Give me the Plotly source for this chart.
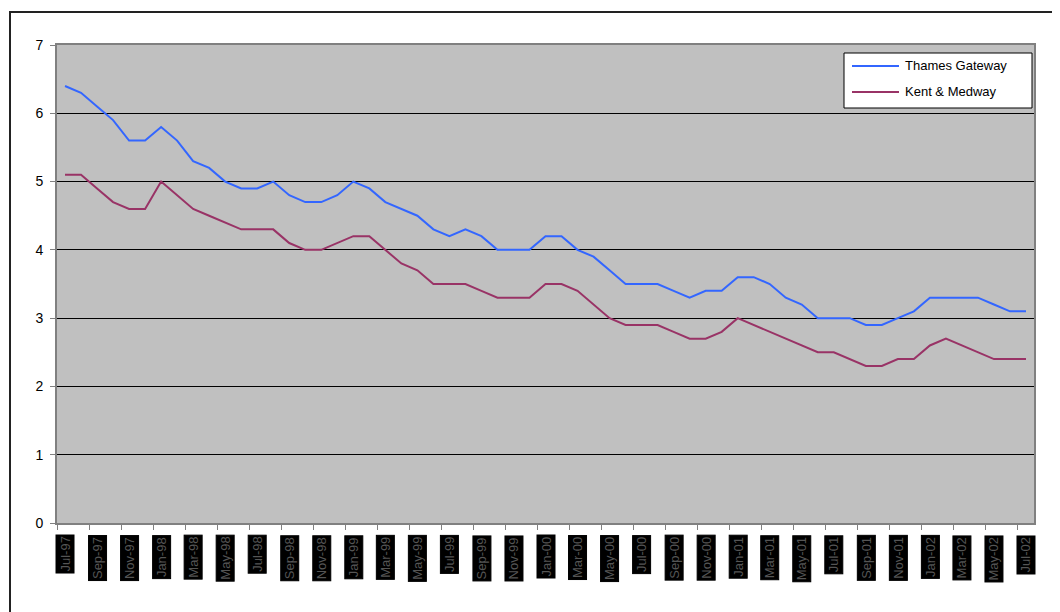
import pandas as pd
import plotly.graph_objects as go

# Monthly categories, July 1997 to July 2002
months = list(pd.date_range("1997-07-01", periods=61, freq="MS").strftime("%b-%y"))

thames_gateway = [
    6.4, 6.3, 6.1, 5.9, 5.6, 5.6, 5.8, 5.6, 5.3, 5.2,
    5.0, 4.9, 4.9, 5.0, 4.8, 4.7, 4.7, 4.8, 5.0, 4.9,
    4.7, 4.6, 4.5, 4.3, 4.2, 4.3, 4.2, 4.0, 4.0, 4.0,
    4.2, 4.2, 4.0, 3.9, 3.7, 3.5, 3.5, 3.5, 3.4, 3.3,
    3.4, 3.4, 3.6, 3.6, 3.5, 3.3, 3.2, 3.0, 3.0, 3.0,
    2.9, 2.9, 3.0, 3.1, 3.3, 3.3, 3.3, 3.3, 3.2, 3.1,
    3.1,
]
kent_medway = [
    5.1, 5.1, 4.9, 4.7, 4.6, 4.6, 5.0, 4.8, 4.6, 4.5,
    4.4, 4.3, 4.3, 4.3, 4.1, 4.0, 4.0, 4.1, 4.2, 4.2,
    4.0, 3.8, 3.7, 3.5, 3.5, 3.5, 3.4, 3.3, 3.3, 3.3,
    3.5, 3.5, 3.4, 3.2, 3.0, 2.9, 2.9, 2.9, 2.8, 2.7,
    2.7, 2.8, 3.0, 2.9, 2.8, 2.7, 2.6, 2.5, 2.5, 2.4,
    2.3, 2.3, 2.4, 2.4, 2.6, 2.7, 2.6, 2.5, 2.4, 2.4,
    2.4,
]
series_names = ["Thames Gateway", "Kent & Medway"]
series_colors = ["#3366FF", "#993366"]

FONT = "Liberation Sans, Arial, sans-serif"
OFF = 8                      # page body margin
W, H = 1060 - OFF, 612 - OFF
L = 57 - OFF
T = 45 - OFF
R = W - (1034 - OFF)
B = H - (523 - OFF)
pw, ph = W - L - R, H - T - B

def px_x(p):                 # page pixel -> paper x
    return (p - OFF - L) / pw

def px_y(p):                 # page pixel -> paper y
    return (H - B - (p - OFF)) / ph

x_idx = list(range(len(months)))

fig = go.Figure()
for name, vals, col in zip(series_names, [thames_gateway, kent_medway], series_colors):
    fig.add_trace(go.Scatter(x=x_idx, y=vals, mode="lines", name=name,
                             line=dict(color=col, width=2), showlegend=False))

annotations = []
for i in range(0, len(months), 2):
    annotations.append(dict(
        x=x_idx[i], xref="x", y=px_y(535), yref="paper",
        text=months[i], textangle=-90, showarrow=False,
        xanchor="center", yanchor="top",
        bgcolor="black", borderpad=1, borderwidth=1, bordercolor="black",
        font=dict(family=FONT, size=13, color="#555555"),
    ))

shapes = [
    # outer chart frame (extends beyond the visible page)
    dict(type="rect", xref="paper", yref="paper",
         x0=px_x(10), x1=px_x(1080), y0=px_y(640), y1=px_y(12),
         line=dict(color="#222222", width=2), fillcolor="rgba(0,0,0,0)",
         layer="above"),
    # legend box
    dict(type="rect", xref="paper", yref="paper",
         x0=px_x(844), x1=px_x(1032), y0=px_y(108), y1=px_y(53),
         line=dict(color="black", width=1), fillcolor="white", layer="above"),
]
legend_rows = [66, 92]
for name, col, yy in zip(series_names, series_colors, legend_rows):
    shapes.append(dict(type="line", xref="paper", yref="paper",
                       x0=px_x(852), x1=px_x(899), y0=px_y(yy), y1=px_y(yy),
                       line=dict(color=col, width=2), layer="above"))
    annotations.append(dict(
        x=px_x(903), xref="paper", y=px_y(yy), yref="paper",
        text=name, showarrow=False, xanchor="left", yanchor="middle",
        font=dict(family=FONT, size=13, color="black"),
    ))

fig.update_layout(
    width=W, height=H,
    margin=dict(l=L, r=R, t=T, b=B),
    paper_bgcolor="white",
    plot_bgcolor="#C0C0C0",
    font=dict(family=FONT, size=13, color="black"),
    showlegend=False,
    xaxis=dict(
        range=[-0.5, len(months) - 0.5],
        tickmode="array",
        tickvals=[i - 0.5 for i in range(0, len(months), 2)],
        showticklabels=False,
        ticks="outside", ticklen=5, tickcolor="#808080", tickwidth=1,
        showgrid=False, zeroline=False,
        showline=True, linecolor="#808080", linewidth=2, mirror=True,
    ),
    yaxis=dict(
        range=[0, 7], tickmode="linear", tick0=0, dtick=1,
        ticks="outside", ticklen=5, tickcolor="#808080", tickwidth=1,
        showgrid=True, gridcolor="black", gridwidth=1,
        zeroline=False,
        showline=True, linecolor="#808080", linewidth=2, mirror=True,
        tickfont=dict(family=FONT, size=14, color="black"),
        ticklabelstandoff=4,
    ),
    annotations=annotations,
    shapes=shapes,
)

fig.write_html("out.html")
